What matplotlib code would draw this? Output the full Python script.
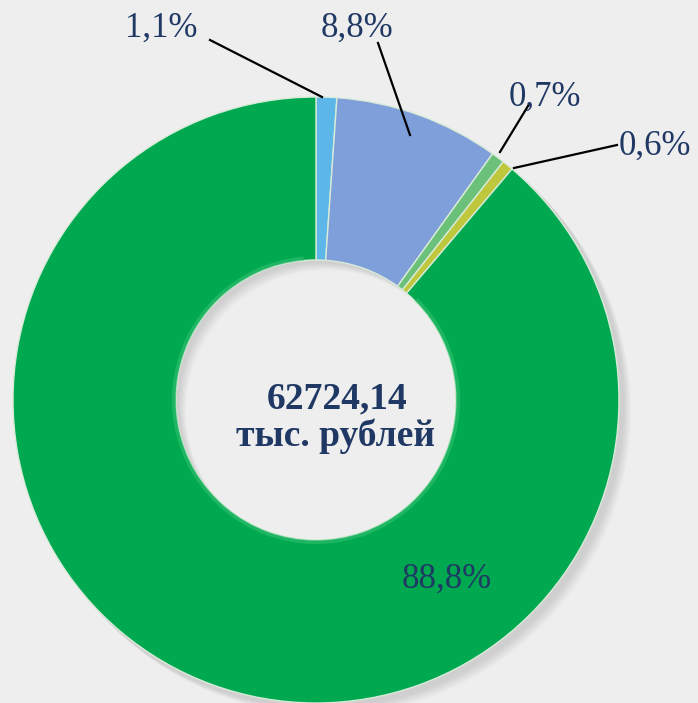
import matplotlib.pyplot as plt
from matplotlib.patches import Wedge

# доли структуры, %
labels = ["1,1%", "8,8%", "0,7%", "0,6%", "88,8%"]
shares = [1.1, 8.8, 0.7, 0.6, 88.8]
colors = ["#5CB6E8", "#7F9FDA", "#6CC17A", "#BFC83C", "#00A84F"]
total_value = "62724,14"
total_unit = "тыс. рублей"

W, H = 698, 703
fig = plt.figure(figsize=(W / 100, H / 100), dpi=100)
fig.patch.set_facecolor("#EEEEEE")
ax = fig.add_axes([0, 0, 1, 1])

cx, cy = 316, H - 400
r_out, r_in = 303, 140

# мягкая тень справа-снизу
for k in range(8):
    sh = Wedge((cx + 4 + k, cy - 4 - k), r_out + 1, 0, 360, width=r_out - r_in,
               facecolor="#808080", edgecolor="none", alpha=0.035, zorder=0)
    ax.add_patch(sh)

ax.pie(shares, colors=colors, startangle=90, counterclock=False,
       center=(cx, cy), radius=r_out, frame=True,
       wedgeprops=dict(width=r_out - r_in, edgecolor="#D8EBD8", linewidth=1.0))

# светлый кант по внутреннему краю зелёного сектора
ax.add_patch(Wedge((cx, cy), r_in + 4, 95, 405, width=4, facecolor="#33C070",
                   edgecolor="none", alpha=0.6, zorder=3))

ax.set_xlim(0, W)
ax.set_ylim(0, H)
ax.set_aspect("equal")
ax.axis("off")

navy = "#1F3864"
font = "Liberation Serif"

# подписи с выносками (позиции в пикселях картинки)
label_pos = [(161, 28), (357, 28), (545, 97), (655, 146), (447, 579)]
leaders = [((210, 40), (322, 97)), ((378, 43), (410, 135)),
           ((528, 106), (500, 152)), ((617, 145), (514, 168)), None]

for lab, (px, py), ld in zip(labels, label_pos, leaders):
    ax.text(px, H - py, lab, ha="center", va="center", fontsize=25,
            color=navy, family=font, zorder=5)
    if ld is not None:
        (x0, y0), (x1, y1) = ld
        ax.plot([x0, x1], [H - y0, H - y1], color="black", linewidth=1.6, zorder=5)

ax.text(cx + 21, H - 408, total_value, ha="center", va="baseline", fontsize=27,
        fontweight="bold", color=navy, family=font)
ax.text(cx + 20, H - 446, total_unit, ha="center", va="baseline", fontsize=27,
        fontweight="bold", color=navy, family=font)

fig.savefig("out.png", dpi=100, facecolor=fig.get_facecolor())
